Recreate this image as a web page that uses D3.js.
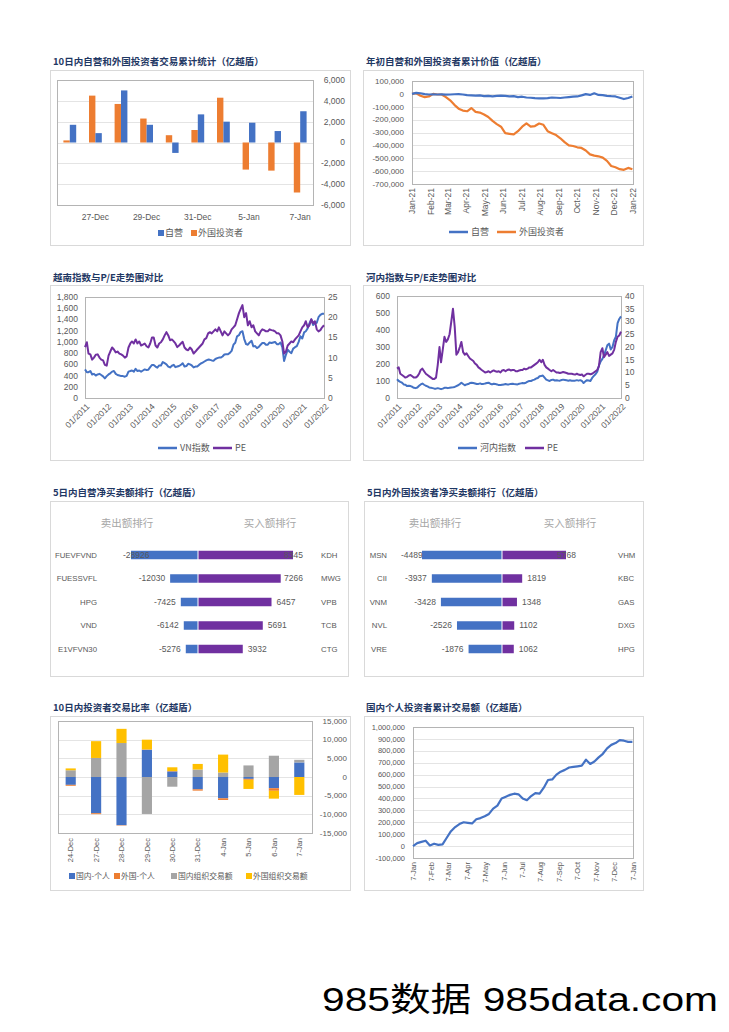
<!DOCTYPE html>
<html><head><meta charset="utf-8">
<script src="https://cdn.jsdelivr.net/npm/d3@7"></script>
<style>
body{margin:0;background:#fff;}
svg{display:block;}
text{font-family:"Liberation Sans","Noto Sans CJK SC",sans-serif;}
.cjk{font-family:"Noto Sans CJK SC",sans-serif;}
</style></head><body>
<svg id="c" width="729" height="1032"></svg>
<script>
// ---------------- DATA ----------------
// Panel 1: 10日内自营和外国投资者交易累计统计
const p1Dates = ['24-Dec','27-Dec','28-Dec','29-Dec','30-Dec','31-Dec','4-Jan','5-Jan','6-Jan','7-Jan'];
const p1Self = [1700, 900, 5000, 1700, -1000, 2700, 2000, 1900, 1100, 3000];
const p1Foreign = [200, 4500, 3700, 2300, 700, 1200, 4300, -2600, -2700, -4800];
const p1Ticks = [-6000,-4000,-2000,0,2000,4000,6000];

// Panel 2: 年初自营和外国投资者累计价值 (weekly from 2021-01-01)
const p2Start = '2021-01-01';
const p2Self = [0,8000,5000,-2000,-5000,-3000,-5000,-4000,-6000,-5000,-3000,-2000,-5000,-10000,-12000,-14000,-12000,-18000,-15000,-20000,-16000,-14000,-15000,-20000,-18000,-25000,-22000,-28000,-30000,-33000,-35000,-35000,-33000,-28000,-30000,-32000,-28000,-25000,-22000,-20000,-12000,-2000,-8000,5000,-8000,-10000,-15000,-18000,-20000,-30000,-40000,-32000,-20000];
const p2Foreign = [0,5000,-15000,-25000,-20000,0,-5000,-5000,-25000,-50000,-85000,-115000,-130000,-135000,-110000,-140000,-145000,-160000,-180000,-210000,-235000,-255000,-305000,-310000,-315000,-290000,-255000,-230000,-255000,-250000,-230000,-240000,-290000,-305000,-320000,-345000,-375000,-400000,-405000,-415000,-420000,-440000,-470000,-480000,-485000,-495000,-520000,-560000,-570000,-585000,-590000,-575000,-585000];
const p2Ticks = [100000,0,-100000,-200000,-300000,-400000,-500000,-600000,-700000];

// Panel 3: 越南指数与P/E (monthly, 2011-01 .. 2022-01)
const p34Start = '2011-01-01';
const vnIndex = [
510,460,460,480,420,430,400,420,430,410,385,350,
390,420,440,470,480,430,410,400,390,390,380,395,
470,480,490,470,520,480,490,470,490,510,500,505,
550,590,590,560,540,580,580,640,620,600,560,545,
575,590,550,560,570,590,620,560,570,610,600,580,
545,560,560,590,615,630,650,670,685,680,670,665,
695,710,720,720,740,775,780,780,805,840,950,985,
1100,1120,1175,1190,1050,960,950,990,1020,920,925,890,
910,950,980,980,950,950,990,980,990,1000,960,960,
990,900,660,770,860,825,800,880,905,925,1000,1100,
1060,1170,1190,1240,1330,1400,1300,1330,1340,1440,1480,1500,
1500];
const vnPE = [
12.6,13.8,11.0,10.8,9.5,10.0,10.7,10.8,10.0,9.5,9.3,8.2,
8.0,10.5,11.5,12.5,12.0,11.3,11.5,11.0,10.8,10.5,10.0,10.3,
12.5,13.5,14.0,13.5,14.5,13.5,14.0,13.0,13.2,13.5,12.8,12.5,
13.5,15.0,15.0,13.0,12.5,13.5,13.8,14.5,15.5,16.3,15.5,14.3,
14.5,14.0,13.5,12.6,13.0,13.5,13.9,12.5,12.0,11.8,12.5,12.0,
11.0,11.5,12.0,12.5,13.0,13.5,14.5,14.8,16.0,16.3,16.0,16.5,
17.0,16.5,17.5,16.5,15.5,16.5,16.0,15.5,16.0,17.0,17.5,18.0,
19.5,21.0,22.0,23.0,20.0,21.0,18.0,19.0,17.5,18.0,16.5,16.0,
15.5,16.5,17.0,16.8,16.5,16.5,17.0,16.8,16.7,16.5,16.0,16.0,
15.5,14.0,11.0,11.5,13.0,13.5,14.0,13.8,14.5,15.0,15.5,16.5,
17.5,18.0,19.0,17.5,18.0,19.5,18.5,19.0,17.0,16.5,16.8,17.5,
18.0];
const p3LeftTicks = [0,200,400,600,800,1000,1200,1400,1600,1800];
const p3RightTicks = [0,5,10,15,20,25];

// Panel 4: 河内指数与P/E (monthly)
const hnxIndex = [
110,100,95,90,80,78,70,72,70,66,60,58,
62,72,80,85,78,72,68,62,60,58,55,55,
58,55,52,55,60,60,58,60,62,63,65,70,
75,82,90,82,75,80,82,88,90,88,85,82,
83,86,82,83,85,88,90,84,80,84,82,80,
76,76,78,80,82,80,80,83,84,82,81,80,
84,86,88,87,90,96,100,100,105,108,115,118,
128,130,132,120,108,104,100,106,108,103,105,103,
102,106,108,106,104,102,104,102,102,102,105,102,
105,100,88,98,105,103,100,118,130,140,155,190,
215,230,250,280,310,320,285,300,340,360,440,465,
480];
const hnxPE = [
11.5,12.0,9.5,9.0,8.5,8.0,8.3,8.8,9.0,8.5,8.0,8.0,
8.5,9.5,11.0,11.5,10.5,9.5,9.0,8.5,8.0,7.5,7.5,8.0,
13.0,20.0,14.0,19.0,24.0,22.0,23.0,25.0,30.0,35.0,28.0,17.0,
18.0,20.0,22.0,18.0,17.0,17.5,16.5,15.5,15.0,14.5,13.5,13.0,
12.0,11.5,11.0,10.5,10.0,10.2,10.5,10.0,10.5,10.8,10.5,10.3,
10.5,10.0,10.8,11.0,10.5,11.0,11.2,10.8,11.0,11.0,10.5,10.5,
10.8,11.0,11.0,11.5,11.2,11.5,12.0,12.0,12.5,13.0,13.5,14.0,
15.0,14.0,15.0,13.0,12.0,11.5,11.0,10.5,11.0,10.5,10.0,10.0,
9.8,10.0,10.2,10.0,9.8,9.5,9.5,9.5,9.3,9.2,9.5,9.2,
9.0,9.2,8.5,9.0,9.5,9.5,9.3,9.5,10.0,10.5,11.0,12.5,
18.0,19.5,16.0,17.0,18.0,16.5,17.0,17.5,19.0,22.0,24.0,24.5,
26.0];
const p4LeftTicks = [0,100,200,300,400,500,600];
const p4RightTicks = [0,5,10,15,20,25,30,35,40];

// Panel 5: 5日内自营净买卖额排行
const p5SellNames = ['FUEVFVND','FUESSVFL','HPG','VND','E1VFVN30'];
const p5SellVals = [-28926,-12030,-7425,-6142,-5276];
const p5BuyNames = ['KDH','MWG','VPB','TCB','CTG'];
const p5BuyVals = [8345,7266,6457,5691,3932];

// Panel 6: 5日内外国投资者净买卖额排行
const p6SellNames = ['MSN','CII','VNM','NVL','VRE'];
const p6SellVals = [-4489,-3937,-3428,-2526,-1876];
const p6BuyNames = ['VHM','KBC','GAS','DXG','HPG'];
const p6BuyVals = [5768,1819,1348,1102,1062];

// Panel 7: 10日内投资者交易比率
const p7Dates = ['24-Dec','27-Dec','28-Dec','29-Dec','30-Dec','31-Dec','4-Jan','5-Jan','6-Jan','7-Jan'];
const p7DomIndiv = [-2100,-9700,-12900,7300,1500,-3300,-5700,-500,-3000,3900];
const p7ForIndiv = [-250,-250,-100,100,100,-350,-450,-250,-700,0];
const p7DomInst = [1800,5100,9100,-9900,-2600,2000,1200,3100,5700,700];
const p7ForInst = [500,4500,3800,2600,1000,1500,4800,-2450,-2100,-4800];
const p7Ticks = [-15000,-10000,-5000,0,5000,10000,15000];

// Panel 8: 国内个人投资者累计交易额 (weekly from 2021-01-07)
const p8Start = '2021-01-07';
const p8Vals = [0,25000,35000,45000,5000,20000,10000,15000,70000,125000,160000,185000,200000,195000,190000,225000,235000,250000,270000,315000,340000,400000,415000,430000,440000,435000,400000,385000,420000,445000,440000,490000,555000,560000,600000,625000,640000,660000,665000,670000,675000,725000,690000,710000,745000,775000,820000,850000,865000,890000,885000,875000,875000];
const p8Ticks = [1000000,900000,800000,700000,600000,500000,400000,300000,200000,100000,0,-100000];

// ---------------- DRAW ----------------
const svg = d3.select('#c');
const AX = '#595959', GRID = '#E4E4E4', BOX = '#D9D9D9', PLOT = '#B4B4B4';
const BLUE = '#4472C4', ORANGE = '#ED7D31', PURPLE = '#7030A0', GRAY = '#A5A5A5', YELLOW = '#FFC000';
const TITLE = '#1F3864';
const fmt = d3.formatLocale({decimal:'.',thousands:',',grouping:[3],currency:['',''],minus:'-'}).format(',');
const parse = d3.timeParse('%Y-%m-%d');

function box(x,y,w,h){ svg.append('rect').attr('x',x+0.5).attr('y',y+0.5).attr('width',w).attr('height',h).attr('fill','#fff').attr('stroke',BOX); }
function title(x,y,t){ svg.append('text').attr('class','cjk').attr('x',x).attr('y',y).attr('font-size',9.5).attr('font-weight','bold').attr('fill',TITLE).text(t); }
function plotRect(L,T,R,B){ svg.append('rect').attr('x',L+0.5).attr('y',T+0.5).attr('width',R-L).attr('height',B-T).attr('fill','none').attr('stroke',PLOT); }
function grid(vals,y,L,R){ svg.append('g').selectAll('line').data(vals).join('line').attr('x1',L).attr('x2',R).attr('y1',d=>Math.round(y(d))+0.5).attr('y2',d=>Math.round(y(d))+0.5).attr('stroke',GRID); }
function yLabels(vals,y,x,anchor,size,f){ svg.append('g').selectAll('text').data(vals).join('text').attr('x',x).attr('y',d=>y(d)).attr('dy','0.35em').attr('text-anchor',anchor).attr('font-size',size).attr('fill',AX).text(f||fmt); }
function legSquare(x,y,color,t,size){ svg.append('rect').attr('x',x).attr('y',y-3).attr('width',6).attr('height',6).attr('fill',color); svg.append('text').attr('class','cjk').attr('x',x+7).attr('y',y).attr('dy','0.35em').attr('font-size',size||9).attr('fill',AX).text(t); }
function legLine(x,y,color,t){ svg.append('line').attr('x1',x).attr('x2',x+19).attr('y1',y).attr('y2',y).attr('stroke',color).attr('stroke-width',2.5); svg.append('text').attr('class','cjk').attr('x',x+22).attr('y',y).attr('dy','0.35em').attr('font-size',9).attr('fill',AX).text(t); }
function path(data,x,y,color,w){ svg.append('path').datum(data).attr('fill','none').attr('stroke',color).attr('stroke-width',w||2.2).attr('stroke-linejoin','round').attr('d',d3.line().x(d=>x(d[0])).y(d=>y(d[1]))); }

// ---- Panel 1 ----
(function(){
  box(50,70,300,175);
  title(53,65,'10日内自营和外国投资者交易累计统计（亿越盾）');
  const L=57,R=313,T=80,B=205;
  const x=d3.scaleBand().domain(p1Dates).range([L,R]);
  const y=d3.scaleLinear().domain([d3.min(p1Ticks),d3.max(p1Ticks)]).range([B,T]);
  grid(p1Ticks.slice(1,-1),y,L,R);
  plotRect(L,T,R,B);
  const sub=d3.scaleBand().domain(['f','s']).range([0,x.bandwidth()]).paddingOuter(1);
  const g=svg.append('g');
  g.selectAll('.f').data(p1Dates).join('rect').attr('x',(d,i)=>x(d)+sub('f')).attr('width',sub.bandwidth())
    .attr('y',(d,i)=>y(Math.max(0,p1Foreign[i]))).attr('height',(d,i)=>Math.abs(y(p1Foreign[i])-y(0))).attr('fill',ORANGE);
  g.selectAll('.s').data(p1Dates).join('rect').attr('x',(d,i)=>x(d)+sub('s')).attr('width',sub.bandwidth())
    .attr('y',(d,i)=>y(Math.max(0,p1Self[i]))).attr('height',(d,i)=>Math.abs(y(p1Self[i])-y(0))).attr('fill',BLUE);
  yLabels(p1Ticks,y,345,'end',8.5);
  svg.append('g').selectAll('text').data(p1Dates.filter((d,i)=>i%2===1)).join('text')
    .attr('x',d=>x(d)+x.bandwidth()/2).attr('y',220).attr('text-anchor','middle').attr('font-size',8.5).attr('fill',AX).text(d=>d);
  legSquare(158,233,BLUE,'自营');
  legSquare(191,233,ORANGE,'外国投资者');
})();

// ---- Panel 2 ----
(function(){
  box(363,70,280,175);
  title(366,65,'年初自营和外国投资者累计价值（亿越盾）');
  const L=412,R=633,T=81,B=184;
  const start=parse(p2Start);
  const x=d3.scaleTime().domain([start,new Date(2022,0,1)]).range([L,R]);
  const y=d3.scaleLinear().domain([d3.min(p2Ticks),d3.max(p2Ticks)]).range([B,T]);
  grid(p2Ticks.slice(1,-1),y,L,R);
  plotRect(L,T,R,B);
  const dt=i=>d3.timeDay.offset(start,7*i);
  path(p2Foreign.map((v,i)=>[dt(i),v]),x,y,ORANGE);
  path(p2Self.map((v,i)=>[dt(i),v]),x,y,BLUE);
  yLabels(p2Ticks,y,404,'end',8);
  const months=d3.timeMonth.range(start,new Date(2022,0,2));
  svg.append('g').selectAll('text').data(months).join('text')
    .attr('transform',d=>`translate(${x(d)},188) rotate(-90)`).attr('text-anchor','end').attr('dy','0.35em')
    .attr('font-size',8.5).attr('fill',AX).text(d3.timeFormat('%b-%y'));
  legLine(449,232,BLUE,'自营');
  legLine(497,232,ORANGE,'外国投资者');
})();

// ---- Panel 3 & 4 ----
function dualPanel(o){
  box(o.bx,285,o.bw,175);
  title(o.bx+3,281,o.title);
  const {L,R,T,B}=o;
  const start=parse(p34Start);
  const x=d3.scaleTime().domain([start,new Date(2022,0,1)]).range([L,R]);
  const yl=d3.scaleLinear().domain([0,d3.max(o.lt)]).range([B,T]);
  const yr=d3.scaleLinear().domain([0,d3.max(o.rt)]).range([B,T]);
  plotRect(L,T,R,B);
  const dt=i=>d3.timeMonth.offset(start,i);
  path(o.idx.map((v,i)=>[dt(i),v]),x,yl,BLUE,2);
  path(o.pe.map((v,i)=>[dt(i),v]),x,yr,PURPLE,2);
  yLabels(o.lt,yl,L-7,'end',o.fs);
  yLabels(o.rt,yr,R+4,'start',o.fs,d=>d);
  const years=d3.timeYear.range(start,new Date(2022,0,2));
  svg.append('g').selectAll('text').data(years).join('text')
    .attr('transform',d=>`translate(${x(d)+3},405) rotate(-45)`).attr('text-anchor','end').attr('dy','0.35em')
    .attr('font-size',8.5).attr('fill',AX).text(d3.timeFormat('%m/%Y'));
  legLine(o.lg1,448,BLUE,o.name);
  legLine(o.lg2,448,PURPLE,'PE');
}
dualPanel({bx:50,bw:300,title:'越南指数与P/E走势图对比',L:85,R:324,T:297,B:398,lt:p3LeftTicks,rt:p3RightTicks,idx:vnIndex,pe:vnPE,fs:8.5,name:'VN指数',lg1:158,lg2:213});
dualPanel({bx:363,bw:280,title:'河内指数与P/E走势图对比',L:397,R:621,T:296,B:398,lt:p4LeftTicks,rt:p4RightTicks,idx:hnxIndex,pe:hnxPE,fs:8.5,name:'河内指数',lg1:458,lg2:525});

// ---- Panel 5 & 6 ----
function rankPanel(o){
  box(o.bx,501,o.bw,175);
  title(o.bx+3,496,o.title);
  const rows=d3.scalePoint().domain(d3.range(5)).range([555,649]);
  const xl=d3.scaleLinear().domain([d3.min(o.sv),0]).range([o.lmin,o.c]);
  const xr=d3.scaleLinear().domain([0,d3.max(o.bv)]).range([o.c,o.rmax]);
  const bh=8.5;
  svg.append('text').attr('class','cjk').attr('x',o.h1).attr('y',523).attr('dy','0.35em').attr('text-anchor','middle').attr('font-size',10.5).attr('fill','#A6A6A6').text('卖出额排行');
  svg.append('text').attr('class','cjk').attr('x',o.h2).attr('y',523).attr('dy','0.35em').attr('text-anchor','middle').attr('font-size',10.5).attr('fill','#A6A6A6').text('买入额排行');
  const g=svg.append('g');
  g.selectAll('.l').data(o.sv).join('rect').attr('x',d=>xl(d)).attr('width',d=>o.c-0.5-xl(d)).attr('y',(d,i)=>rows(i)-bh/2).attr('height',bh).attr('fill',BLUE);
  g.selectAll('.r').data(o.bv).join('rect').attr('x',o.c+0.5).attr('width',d=>xr(d)-o.c-0.5).attr('y',(d,i)=>rows(i)-bh/2).attr('height',bh).attr('fill',PURPLE);
  g.selectAll('.ln').data(o.sn).join('text').attr('x',o.n1).attr('y',(d,i)=>rows(i)).attr('dy','0.35em').attr('text-anchor','end').attr('font-size',7.8).attr('fill',AX).text(d=>d);
  g.selectAll('.rn').data(o.bn).join('text').attr('x',o.n2).attr('y',(d,i)=>rows(i)).attr('dy','0.35em').attr('text-anchor','start').attr('font-size',7.8).attr('fill',AX).text(d=>d);
  g.selectAll('.lv').data(o.sv).join('text').attr('y',(d,i)=>rows(i)).attr('dy','0.35em').attr('text-anchor','end').attr('font-size',8.5).attr('fill',AX).text(d=>d)
    .each(function(d){ const w=this.getComputedTextLength(); d3.select(this).attr('x',Math.max(xl(d)-5,o.pl+w)); });
  g.selectAll('.rv').data(o.bv).join('text').attr('y',(d,i)=>rows(i)).attr('dy','0.35em').attr('text-anchor','start').attr('font-size',8.5).attr('fill',AX).text(d=>d)
    .each(function(d){ const w=this.getComputedTextLength(); d3.select(this).attr('x',Math.min(xr(d)+5,o.pr-w)); });
}
rankPanel({bx:50,bw:298,title:'5日内自营净买卖额排行（亿越盾）',c:198,lmin:131,rmax:293,pl:123,pr:303,h1:127,h2:270,n1:97,n2:321,sn:p5SellNames,sv:p5SellVals,bn:p5BuyNames,bv:p5BuyVals});
rankPanel({bx:364,bw:279,title:'5日内外国投资者净买卖额排行（亿越盾）',c:502,lmin:422,rmax:566,pl:401,pr:576,h1:435,h2:570,n1:387,n2:618,sn:p6SellNames,sv:p6SellVals,bn:p6BuyNames,bv:p6BuyVals});

// ---- Panel 7 ----
(function(){
  box(50,716,300,174);
  title(53,711,'10日内投资者交易比率（亿越盾）');
  const L=58,R=312,T=721,B=833;
  const x=d3.scaleBand().domain(p7Dates).range([L,R]).paddingInner(0.6).paddingOuter(0.3);
  const y=d3.scaleLinear().domain([d3.min(p7Ticks),d3.max(p7Ticks)]).range([B,T]);
  grid(p7Ticks.slice(1,-1),y,L,R);
  plotRect(L,T,R,B);
  const keys=['domIndiv','forIndiv','domInst','forInst'];
  const colors={domIndiv:BLUE,forIndiv:ORANGE,domInst:GRAY,forInst:YELLOW};
  const table=p7Dates.map((d,i)=>({date:d,domIndiv:p7DomIndiv[i],forIndiv:p7ForIndiv[i],domInst:p7DomInst[i],forInst:p7ForInst[i]}));
  const series=d3.stack().keys(keys).offset(d3.stackOffsetDiverging)(table);
  svg.append('g').selectAll('g').data(series).join('g').attr('fill',s=>colors[s.key])
    .selectAll('rect').data(s=>s).join('rect').attr('x',d=>x(d.data.date)).attr('width',x.bandwidth())
    .attr('y',d=>y(d[1])).attr('height',d=>Math.abs(y(d[0])-y(d[1])));
  yLabels(p7Ticks,y,347,'end',8);
  svg.append('g').selectAll('text').data(p7Dates).join('text')
    .attr('transform',d=>`translate(${x(d)+x.bandwidth()/2},838) rotate(-90)`).attr('text-anchor','end').attr('dy','0.35em')
    .attr('font-size',7.5).attr('fill',AX).text(d=>d);
  legSquare(69,876,BLUE,'国内-个人',7.8);
  legSquare(114,876,ORANGE,'外国-个人',7.8);
  legSquare(171,876,GRAY,'国内组织交易额',7.8);
  legSquare(246,876,YELLOW,'外国组织交易额',7.8);
})();

// ---- Panel 8 ----
(function(){
  box(364,716,279,174);
  title(366,711,'国内个人投资者累计交易额（亿越盾）');
  const L=413,R=633,T=727,B=858;
  const start=parse(p8Start);
  const x=d3.scaleTime().domain([start,new Date(2022,0,7)]).range([L,R]);
  const y=d3.scaleLinear().domain([d3.min(p8Ticks),d3.max(p8Ticks)]).range([B,T]);
  grid(p8Ticks.slice(1,-1),y,L,R);
  plotRect(L,T,R,B);
  path(p8Vals.map((v,i)=>[d3.timeDay.offset(start,7*i),v]),x,y,BLUE,2.2);
  yLabels(p8Ticks,y,405,'end',7.5);
  const months=d3.timeMonth.range(new Date(2021,0,1),new Date(2022,0,2)).map(d=>d3.timeDay.offset(d,6));
  svg.append('g').selectAll('text').data(months).join('text')
    .attr('transform',d=>`translate(${x(d)},862) rotate(-90)`).attr('text-anchor','end').attr('dy','0.35em')
    .attr('font-size',7.5).attr('fill',AX).text(d3.timeFormat('%-d-%b'));
})();

// ---- Footer ----
svg.append('text').attr('x',322).attr('y',1011).attr('font-size',33).attr('fill','#000')
  .attr('textLength',396).attr('lengthAdjust','spacingAndGlyphs').text('985数据 985data.com');
</script>
</body></html>
